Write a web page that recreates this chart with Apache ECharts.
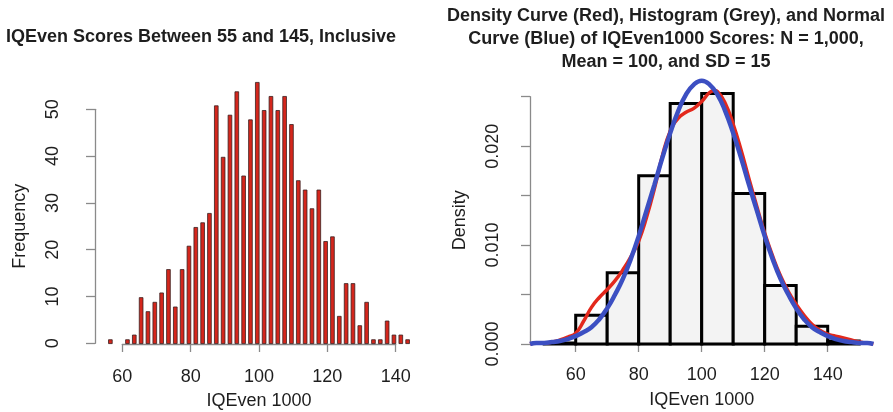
<!DOCTYPE html>
<html><head><meta charset="utf-8">
<script src="https://cdn.jsdelivr.net/npm/echarts@6/dist/echarts.min.js"></script>
<style>html,body{margin:0;padding:0;background:#fff}#c{width:893px;height:412px}</style>
</head><body><div id="c"></div>
<script>
// ---- Left panel: frequencies of scores
const scoreValues = [56.5, 61.5, 63.5, 65.5, 67.5, 69.5, 71.5, 73.5, 75.5, 77.5, 79.5,
  81.5, 83.5, 85.5, 87.5, 89.5, 91.5, 93.5, 95.5, 97.5, 99.5,
  101.5, 103.5, 105.5, 107.5, 109.5, 111.5, 113.5, 115.5, 117.5, 119.5,
  121.5, 123.5, 125.5, 127.5, 129.5, 131.5, 133.5, 135.5, 137.5, 139.5,
  141.5, 143.5];
const scoreCounts = [1, 1, 2, 10, 7, 9, 11, 16, 8, 16, 21,
  25, 26, 28, 51, 40, 49, 54, 36, 48, 56,
  50, 53, 50, 53, 47, 35, 33, 29, 33, 22,
  23, 6, 13, 13, 4, 9, 1, 1, 5, 2,
  2, 1];
const leftXTicks = [60, 80, 100, 120, 140];
const leftYTicks = [0, 10, 20, 30, 40, 50];

// ---- Right panel: histogram (density), kernel density, normal curve
const binStarts = [50, 60, 70, 80, 90, 100, 110, 120, 130, 140];
const binWidth = 10;
const binDensity = [0.0001, 0.0029, 0.0072, 0.0170, 0.0243, 0.0253, 0.0152, 0.0059, 0.0018, 0.0003];

const densityX = [45.5, 48, 50, 52.5, 55, 57.5, 60, 62.5, 65, 67.5, 70, 72.5, 75, 77.5, 80,
  82.5, 85, 87.5, 90, 92.5, 95, 97.5, 100, 102.5, 104, 105, 107.5, 110, 112.5, 115,
  117.5, 120, 122.5, 125, 127.5, 130, 132.5, 135, 137.5, 140, 142.5, 145, 147.5, 150, 152.5, 154.5];
const densityY = [0.0000, 0.0001, 0.0001, 0.0002, 0.0004, 0.0007, 0.0011, 0.0023, 0.0037, 0.0047, 0.0055, 0.0064, 0.0075, 0.0088, 0.0104,
  0.0128, 0.0157, 0.0190, 0.0215, 0.0228, 0.0234, 0.0238, 0.0245, 0.0254, 0.0256, 0.0255, 0.0243, 0.0222, 0.0196, 0.0167,
  0.0139, 0.0112, 0.0089, 0.0069, 0.0053, 0.0040, 0.0029, 0.0020, 0.0014, 0.0010, 0.0008, 0.0006, 0.0004, 0.0002, 0.0001, 0.0000];

const normalX = [45.5, 47.5, 50, 52.5, 55, 57.5, 60, 62.5, 65, 67.5, 70, 72.5, 75, 77.5, 80, 82.5, 85, 87.5, 90, 92.5, 95, 97.5,
  100, 102.5, 105, 107.5, 110, 112.5, 115, 117.5, 120, 122.5, 125, 127.5, 130, 132.5, 135, 137.5, 140, 142.5, 145, 147.5, 150, 152.5, 154.5];
const normalY = [0.0000, 0.0001, 0.0001, 0.0002, 0.0003, 0.0005, 0.0008, 0.0012, 0.0017, 0.0025, 0.0036, 0.0050, 0.0066, 0.0086, 0.0109, 0.0135, 0.0161, 0.0188, 0.0213, 0.0235, 0.0252, 0.0262,
  0.0266, 0.0262, 0.0252, 0.0235, 0.0213, 0.0188, 0.0161, 0.0135, 0.0109, 0.0086, 0.0066, 0.0050, 0.0036, 0.0025, 0.0017, 0.0012, 0.0008, 0.0005, 0.0003, 0.0002, 0.0001, 0.0001, 0.0000];
const rightXTicks = [60, 80, 100, 120, 140];

const FONT = '"Liberation Sans", Arial, Helvetica, sans-serif';
const AX = '#8a8a8a';
const TXT = '#1e1e1e';
const FS = 18;

const chart = echarts.init(document.getElementById('c'), null, {renderer: 'canvas'});
const hidden = {show: false};
function gridBox(left, top, width, height) {
  return {left, top, width, height, containLabel: false, outerBoundsMode: 'none'};
}
const hiddenAxis = (gi, min, max) => ({gridIndex: gi, type: 'value', min, max, show: false});

const option = {
  animation: false,
  backgroundColor: '#fff',
  title: [
    {text: 'IQEven Scores Between 55 and 145, Inclusive', left: 201, top: 28, textAlign: 'center', padding: 0,
     textStyle: {fontFamily: FONT, fontSize: 18, fontWeight: 'bold', color: TXT}},
    {text: 'Density Curve (Red), Histogram (Grey), and Normal\nCurve (Blue) of IQEven1000 Scores: N = 1,000,\nMean = 100, and SD = 15',
     left: 666, top: 5, textAlign: 'center', padding: 0,
     textStyle: {fontFamily: FONT, fontSize: 18, fontWeight: 'bold', color: TXT, lineHeight: 23}}
  ],
  grid: [
    gridBox(95, 75, 328, 269),          // 0 left data
    gridBox(122.3, 75, 273.4, 269),     // 1 left x axis
    gridBox(95, 109.3, 328, 234),       // 2 left y axis
    gridBox(512.7, 71.75, 378, 272.25), // 3 right data
    gridBox(575.7, 71.75, 252, 272.25), // 4 right x axis
    gridBox(530, 96.7, 300, 247.3)      // 5 right y axis
  ],
  xAxis: [
    hiddenAxis(0, 52, 148),
    {gridIndex: 1, type: 'value', min: leftXTicks[0], max: leftXTicks[leftXTicks.length - 1], interval: 20, offset: 10,
     axisLine: {show: true, lineStyle: {color: AX, width: 1.3}},
     axisTick: {show: true, length: 8, lineStyle: {color: AX, width: 1.3}},
     axisLabel: {show: true, margin: 14, fontFamily: FONT, fontSize: FS, color: TXT},
     splitLine: hidden,
     name: 'IQEven 1000', nameLocation: 'middle', nameGap: 38,
     nameTextStyle: {fontFamily: FONT, fontSize: FS, color: TXT}},
    hiddenAxis(2, 0, 1),
    hiddenAxis(3, 40, 160),
    {gridIndex: 4, type: 'value', min: rightXTicks[0], max: rightXTicks[rightXTicks.length - 1], interval: 20, offset: 10,
     axisLine: {show: true, lineStyle: {color: AX, width: 1.3}},
     axisTick: {show: true, length: 8, lineStyle: {color: AX, width: 1.3}},
     axisLabel: {show: true, margin: 12, fontFamily: FONT, fontSize: FS, color: TXT},
     splitLine: hidden,
     name: 'IQEven 1000', nameLocation: 'middle', nameGap: 37,
     nameTextStyle: {fontFamily: FONT, fontSize: FS, color: TXT}},
    hiddenAxis(5, 0, 1)
  ],
  yAxis: [
    hiddenAxis(0, 0, 57.5),
    hiddenAxis(1, 0, 1),
    {gridIndex: 2, type: 'value', min: leftYTicks[0], max: leftYTicks[leftYTicks.length - 1], interval: 10, offset: 19,
     axisLine: {show: true, lineStyle: {color: AX, width: 1.3}},
     axisTick: {show: true, length: 9, lineStyle: {color: AX, width: 1.3}},
     axisLabel: {show: true, rotate: 90, margin: 14, fontFamily: FONT, fontSize: FS, color: TXT},
     splitLine: hidden,
     name: 'Frequency', nameLocation: 'middle', nameRotate: 90, nameGap: 47,
     nameTextStyle: {fontFamily: FONT, fontSize: FS, color: TXT}},
    hiddenAxis(3, 0, 0.0275),
    hiddenAxis(4, 0, 1),
    {gridIndex: 5, type: 'value', min: 0, max: 0.025, interval: 0.005, offset: 10.7,
     axisLine: {show: true, lineStyle: {color: AX, width: 1.3}},
     axisTick: {show: true, length: 9, lineStyle: {color: AX, width: 1.3}},
     axisLabel: {show: true, rotate: 90, margin: 17, fontFamily: FONT, fontSize: FS, color: TXT,
       formatter: v => (Math.abs(Math.round(v * 1000) % 10) === 0 ? v.toFixed(3) : '')},
     splitLine: hidden,
     name: 'Density', nameLocation: 'middle', nameRotate: 90, nameGap: 50,
     nameTextStyle: {fontFamily: FONT, fontSize: FS, color: TXT}}
  ],
  series: [
    {type: 'bar', xAxisIndex: 0, yAxisIndex: 0, barWidth: 4.5, silent: true,
     data: scoreValues.map((v, i) => [v, scoreCounts[i]]),
     itemStyle: {color: '#d4261c', borderColor: '#3a2020', borderWidth: 0.8}},
    {type: 'custom', xAxisIndex: 3, yAxisIndex: 3, silent: true,
     data: binStarts.map((s, i) => [s, s + binWidth, binDensity[i]]),
     renderItem: (params, api) => {
       const p0 = api.coord([api.value(0), 0]);
       const p1 = api.coord([api.value(1), api.value(2)]);
       return {type: 'rect', shape: {x: p0[0], y: p1[1], width: p1[0] - p0[0], height: p0[1] - p1[1]},
               style: {fill: '#f3f3f3', stroke: '#000', lineWidth: 3}};
     }},
    {type: 'line', xAxisIndex: 3, yAxisIndex: 3, silent: true, smooth: true, symbol: 'none',
     data: densityX.map((x, i) => [x, densityY[i]]),
     lineStyle: {color: '#e3281c', width: 3.5}},
    {type: 'line', xAxisIndex: 3, yAxisIndex: 3, silent: true, smooth: true, symbol: 'none',
     data: normalX.map((x, i) => [x, normalY[i]]),
     lineStyle: {color: '#3c4fc2', width: 4.5}}
  ]
};
chart.setOption(option);
</script>
</body></html>
